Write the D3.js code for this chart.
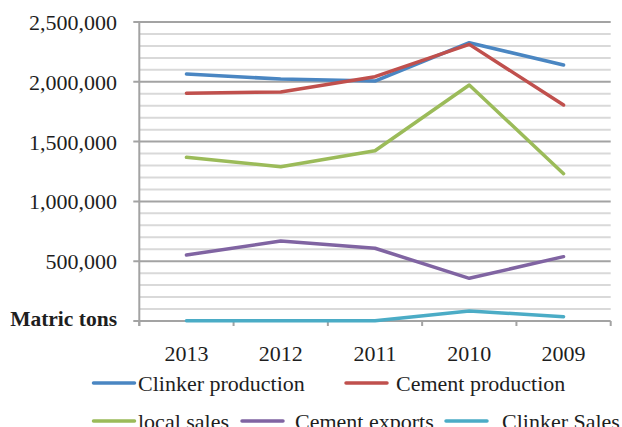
<!DOCTYPE html>
<html><head><meta charset="utf-8">
<script src="https://cdn.jsdelivr.net/npm/d3@7"></script>
<style>
html,body{margin:0;padding:0;background:#fff;}
svg{display:block;}
text{font-family:"Liberation Serif","Times New Roman",serif;fill:#1e1e1e;}
</style></head>
<body>
<svg id="chart" width="622" height="427"></svg>
<script>
const years = ["2013","2012","2011","2010","2009"];
const clinkerProduction = [2065000, 2023000, 2006000, 2327000, 2140000];
const cementProduction  = [1904000, 1915000, 2043000, 2313000, 1806000];
const localSales        = [1369000, 1290000, 1424000, 1973000, 1232000];
const cementExports     = [552000, 669000, 608000, 357000, 538000];
const clinkerSales      = [3000, 3000, 2000, 84000, 36000];
const seriesNames  = ["Clinker production","Cement production","local sales","Cement exports","Clinker Sales"];
const seriesColors = ["#4A86C2","#C0504D","#9BBB59","#8064A2","#4BACC6"];
const yTicks = [0, 500000, 1000000, 1500000, 2000000, 2500000];
const yUnitLabel = "Matric tons";

const series = [clinkerProduction, cementProduction, localSales, cementExports, clinkerSales];

const svg = d3.select("#chart");
const x0 = 139.3, x1 = 610.7, yTop = 22, yBot = 321;
const x = d3.scaleBand().domain(years).range([x0, x1]);
const y = d3.scaleLinear().domain([0, 2500000]).range([yBot, yTop]);

// minor gridlines
const minor = d3.range(100000, 2500000, 100000).filter(v => v % 500000 !== 0);
svg.append("g").selectAll("line").data(minor).join("line")
  .attr("x1", x0).attr("x2", x1).attr("y1", d => y(d)).attr("y2", d => y(d))
  .attr("stroke", "#d9d9d9").attr("stroke-width", 2);

// major gridlines
svg.append("g").selectAll("line").data(yTicks).join("line")
  .attr("x1", x0 - 6).attr("x2", x1).attr("y1", d => y(d)).attr("y2", d => y(d))
  .attr("stroke", "#a3a3a3").attr("stroke-width", 2);

// y axis line
svg.append("line").attr("x1", x0).attr("x2", x0).attr("y1", yTop).attr("y2", yBot + 5)
  .attr("stroke", "#a3a3a3").attr("stroke-width", 2);

// x ticks at band boundaries
const bounds = years.map(d => x(d)).concat([x1]);
svg.append("g").selectAll("line").data(bounds).join("line")
  .attr("x1", d => d).attr("x2", d => d).attr("y1", yBot).attr("y2", yBot + 5)
  .attr("stroke", "#a3a3a3").attr("stroke-width", 2);

// y labels
const fmt = d3.format(",");
svg.append("g").selectAll("text").data(yTicks.filter(d => d > 0)).join("text")
  .attr("x", 117).attr("y", d => y(d) + 8)
  .attr("text-anchor", "end").attr("font-size", 22)
  .text(d => fmt(d));
svg.append("text").attr("x", 117).attr("y", y(0) + 5)
  .attr("text-anchor", "end").attr("font-size", 21.5).attr("font-weight", "bold")
  .text(yUnitLabel);

// x labels
svg.append("g").selectAll("text").data(years).join("text")
  .attr("x", d => x(d) + x.bandwidth() / 2).attr("y", 361)
  .attr("text-anchor", "middle").attr("font-size", 22)
  .text(d => d);

// lines
const line = d3.line().x((d, i) => x(years[i]) + x.bandwidth() / 2).y(d => y(d));
svg.append("g").selectAll("path").data(series).join("path")
  .attr("d", d => line(d))
  .attr("fill", "none")
  .attr("stroke", (d, i) => seriesColors[i])
  .attr("stroke-width", 3.5)
  .attr("stroke-linejoin", "round")
  .attr("stroke-linecap", "round");

// legend
const legendPos = [
  {ix: 93.5, tx: 138, y: 383},
  {ix: 346, tx: 396, y: 383},
  {ix: 93.5, tx: 138, y: 421},
  {ix: 242, tx: 295, y: 421},
  {ix: 446, tx: 502, y: 421}
];
const lg = svg.append("g").selectAll("g").data(seriesNames).join("g");
lg.append("line")
  .attr("x1", (d, i) => legendPos[i].ix).attr("x2", (d, i) => legendPos[i].ix + 41)
  .attr("y1", (d, i) => legendPos[i].y).attr("y2", (d, i) => legendPos[i].y)
  .attr("stroke", (d, i) => seriesColors[i]).attr("stroke-width", 3.5)
  .attr("stroke-linecap", "round");
lg.append("text")
  .attr("x", (d, i) => legendPos[i].tx).attr("y", (d, i) => legendPos[i].y + 7.5)
  .attr("font-size", 22)
  .text(d => d);
</script>
</body></html>
